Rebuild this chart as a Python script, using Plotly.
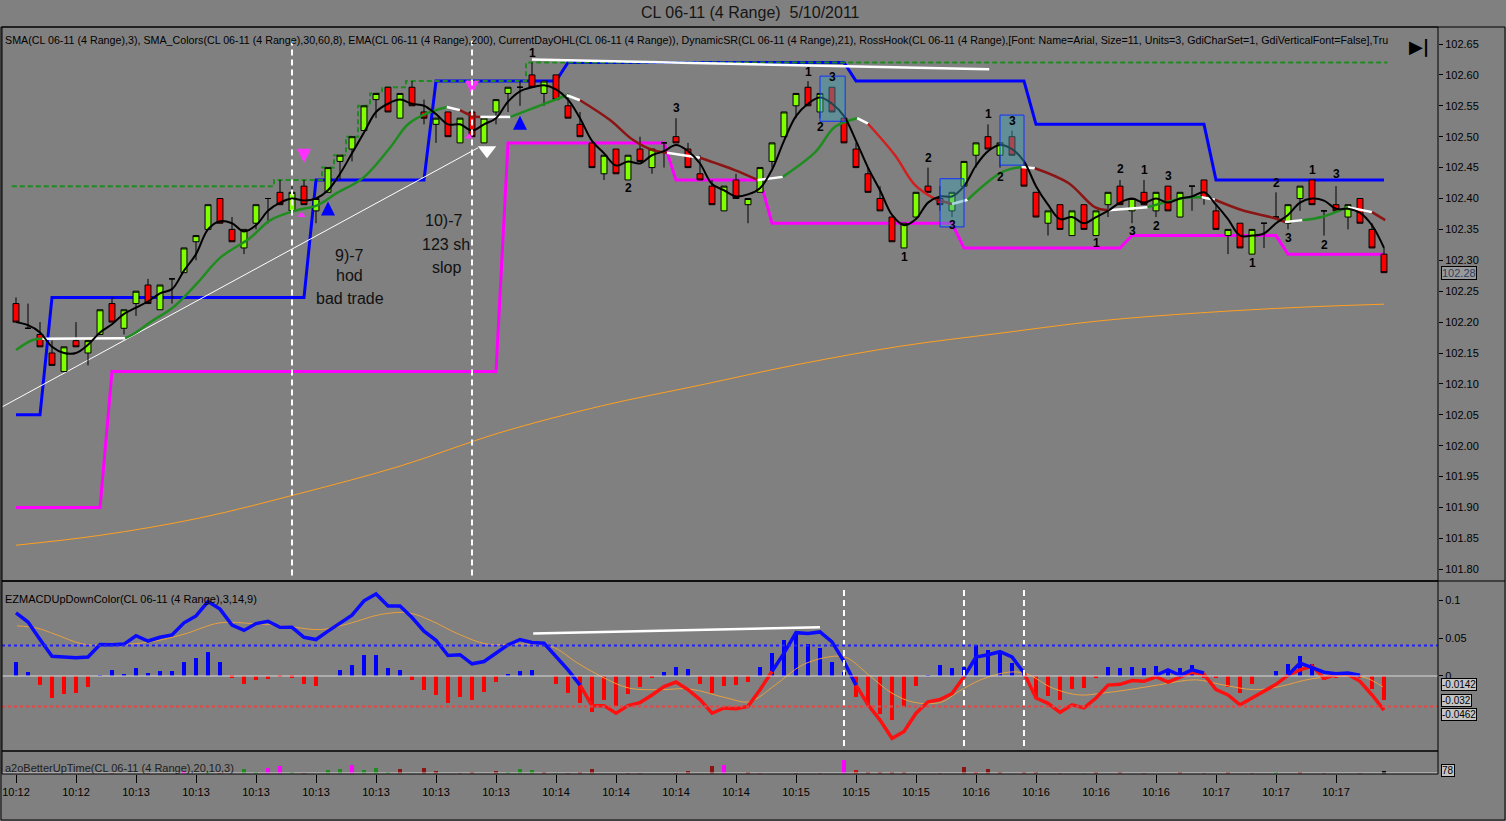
import pandas as pd
import plotly.graph_objects as go

W, H = 1506, 821

# ---- CL 06-11, 4 range bars, 5/10/2011
bar_open = [102.23, 102.19, 102.18, 102.15, 102.12, 102.17, 102.15, 102.18, 102.23, 102.19,
            102.23, 102.26, 102.22, 102.27, 102.28, 102.33, 102.35, 102.40, 102.35, 102.32,
            102.36, 102.40, 102.41, 102.38, 102.42, 102.38, 102.41, 102.46, 102.48, 102.51,
            102.56, 102.58, 102.53, 102.58, 102.54, 102.52, 102.54, 102.49, 102.54, 102.49,
            102.54, 102.57, 102.58, 102.60, 102.57, 102.60, 102.55, 102.52, 102.49, 102.44,
            102.48, 102.43, 102.48, 102.45, 102.49, 102.50, 102.48, 102.44, 102.42, 102.38,
            102.43, 102.39, 102.41, 102.46, 102.50, 102.55, 102.58, 102.54, 102.58, 102.53,
            102.48, 102.44, 102.40, 102.37, 102.32, 102.37, 102.42, 102.40, 102.38, 102.42,
            102.47, 102.50, 102.47, 102.50, 102.45, 102.41, 102.36, 102.39, 102.34, 102.39,
            102.34, 102.39, 102.42, 102.38, 102.41, 102.38, 102.42, 102.37, 102.42, 102.43,
            102.38, 102.34, 102.36, 102.31, 102.36, 102.37, 102.36, 102.40, 102.43, 102.38,
            102.39, 102.37, 102.40, 102.35, 102.31]
bar_high = [102.24, 102.23, 102.20, 102.17, 102.16, 102.20, 102.17, 102.22, 102.24, 102.22,
            102.25, 102.27, 102.26, 102.27, 102.32, 102.34, 102.39, 102.40, 102.37, 102.35,
            102.39, 102.40, 102.43, 102.42, 102.43, 102.40, 102.45, 102.47, 102.50, 102.55,
            102.57, 102.58, 102.57, 102.59, 102.56, 102.53, 102.54, 102.53, 102.54, 102.53,
            102.56, 102.58, 102.59, 102.62, 102.59, 102.60, 102.57, 102.54, 102.49, 102.47,
            102.48, 102.47, 102.50, 102.48, 102.49, 102.53, 102.49, 102.47, 102.43, 102.42,
            102.44, 102.40, 102.45, 102.49, 102.54, 102.57, 102.59, 102.57, 102.58, 102.53,
            102.49, 102.45, 102.42, 102.37, 102.36, 102.41, 102.45, 102.42, 102.41, 102.46,
            102.49, 102.52, 102.49, 102.51, 102.46, 102.41, 102.38, 102.39, 102.38, 102.39,
            102.38, 102.41, 102.43, 102.40, 102.43, 102.41, 102.42, 102.41, 102.42, 102.43,
            102.39, 102.35, 102.36, 102.35, 102.36, 102.41, 102.39, 102.42, 102.43, 102.38,
            102.42, 102.39, 102.40, 102.36, 102.32]
bar_low = [102.20, 102.19, 102.16, 102.13, 102.12, 102.16, 102.13, 102.18, 102.20, 102.18,
           102.21, 102.23, 102.22, 102.23, 102.28, 102.30, 102.35, 102.36, 102.33, 102.31,
           102.35, 102.36, 102.39, 102.38, 102.39, 102.36, 102.41, 102.43, 102.46, 102.51,
           102.53, 102.54, 102.53, 102.55, 102.52, 102.49, 102.50, 102.49, 102.50, 102.49,
           102.52, 102.54, 102.55, 102.58, 102.55, 102.56, 102.53, 102.50, 102.45, 102.43,
           102.44, 102.43, 102.46, 102.44, 102.45, 102.49, 102.45, 102.43, 102.39, 102.38,
           102.40, 102.36, 102.41, 102.45, 102.50, 102.53, 102.55, 102.53, 102.54, 102.49,
           102.45, 102.41, 102.38, 102.33, 102.32, 102.37, 102.41, 102.38, 102.37, 102.42,
           102.45, 102.48, 102.45, 102.47, 102.42, 102.37, 102.34, 102.35, 102.34, 102.35,
           102.34, 102.37, 102.39, 102.36, 102.39, 102.37, 102.38, 102.37, 102.38, 102.39,
           102.35, 102.31, 102.32, 102.31, 102.32, 102.37, 102.35, 102.38, 102.39, 102.34,
           102.38, 102.35, 102.36, 102.32, 102.28]
bar_close = [102.20, 102.19, 102.16, 102.13, 102.16, 102.16, 102.17, 102.22, 102.20, 102.22,
             102.25, 102.23, 102.26, 102.27, 102.32, 102.34, 102.39, 102.36, 102.33, 102.35,
             102.39, 102.40, 102.39, 102.41, 102.39, 102.40, 102.45, 102.47, 102.50, 102.55,
             102.57, 102.54, 102.57, 102.55, 102.53, 102.53, 102.50, 102.53, 102.50, 102.53,
             102.56, 102.58, 102.58, 102.58, 102.59, 102.56, 102.53, 102.50, 102.45, 102.47,
             102.44, 102.47, 102.46, 102.48, 102.49, 102.49, 102.45, 102.43, 102.39, 102.42,
             102.40, 102.40, 102.45, 102.49, 102.54, 102.57, 102.55, 102.57, 102.54, 102.49,
             102.45, 102.41, 102.38, 102.33, 102.36, 102.41, 102.41, 102.39, 102.41, 102.46,
             102.49, 102.48, 102.49, 102.47, 102.42, 102.37, 102.38, 102.35, 102.38, 102.35,
             102.38, 102.41, 102.39, 102.40, 102.39, 102.41, 102.38, 102.41, 102.42, 102.40,
             102.35, 102.35, 102.32, 102.35, 102.36, 102.37, 102.39, 102.42, 102.39, 102.38,
             102.38, 102.39, 102.36, 102.32, 102.28]
bars = list(range(len(bar_close)))

time_ticks = [0, 5, 10, 15, 20, 25, 30, 35, 40, 45, 50, 55, 60, 65, 70, 75, 80, 85, 90, 95, 100, 105, 110]
time_labels = ["10:12", "10:12", "10:13", "10:13", "10:13", "10:13", "10:13", "10:13", "10:13",
               "10:14", "10:14", "10:14", "10:14", "10:15", "10:15", "10:15", "10:16", "10:16",
               "10:16", "10:16", "10:17", "10:17", "10:17"]
price_ticks = [101.80, 101.85, 101.90, 101.95, 102.00, 102.05, 102.10, 102.15, 102.20,
               102.25, 102.30, 102.35, 102.40, 102.45, 102.50, 102.55, 102.60, 102.65]
macd_ticks = [0, 0.05, 0.1]
macd_tick_labels = ["0", "0.05", "0.1"]

# DynamicSR resistance / support steps
sr_hi_x = [0, 2, 3, 24, 25, 34, 35, 45, 46, 69, 70, 84, 85, 99, 100, 114]
sr_hi_y = [102.05, 102.05, 102.24, 102.24, 102.43, 102.43, 102.59, 102.59, 102.62, 102.62,
           102.59, 102.59, 102.52, 102.52, 102.43, 102.43]
sr_lo_x = [0, 7, 8, 40, 41, 54, 55, 62, 63, 78, 79, 92, 93, 105, 106, 114]
sr_lo_y = [101.90, 101.90, 102.12, 102.12, 102.49, 102.49, 102.43, 102.43, 102.36, 102.36,
           102.32, 102.32, 102.34, 102.34, 102.31, 102.31]

# CurrentDayOHL high of day
hod_x = [-0.35, 21, 22, 25, 26, 27, 28, 29, 30, 31, 32, 33, 42, 43, 114.3]
hod_y = [102.42, 102.42, 102.43, 102.43, 102.45, 102.47, 102.50, 102.55, 102.57, 102.58,
         102.58, 102.59, 102.59, 102.62, 102.62]

# EMA(200)
ema_x = [0, 7, 15.3, 23.7, 32, 40.3, 48.7, 57, 65.3, 73.7, 82, 90.3, 98.7, 107, 114]
ema_y = [101.839, 101.855, 101.883, 101.923, 101.967, 102.021, 102.064, 102.098, 102.132,
         102.161, 102.182, 102.202, 102.215, 102.224, 102.229]

# SMA_Colors line and its trend state per segment (g up, d/r down, w flat)
smac_x = [0, 1.4, 2.2, 9.1, 9.9, 11.2, 13.1, 15.1, 17, 19.5, 21.2, 23.4, 25.1, 26.75, 28.9,
          31.2, 32.6, 33.9, 35.9, 37, 38.1, 38.7, 41.2, 45.9, 47, 49.5, 51.4, 53.1, 54.25, 57,
          59.9, 61.8, 63.9, 66.6, 68.25, 70.1, 71, 73.25, 74.9, 76.6, 78, 79.3, 82.2, 83.8, 84.9,
          87.7, 89.9, 91, 94.3, 97.4, 98.8, 99.9, 102.2, 104.9, 105.75, 107.2, 108.8, 111, 113, 114.1]
smac_y = [102.155, 102.171, 102.173, 102.174, 102.182, 102.200, 102.224, 102.263, 102.304,
          102.336, 102.365, 102.381, 102.389, 102.409, 102.433, 102.483, 102.519, 102.535,
          102.548, 102.543, 102.533, 102.532, 102.532, 102.567, 102.559, 102.527, 102.495,
          102.478, 102.474, 102.466, 102.446, 102.430, 102.435, 102.475, 102.516, 102.530,
          102.521, 102.470, 102.422, 102.399, 102.391, 102.398, 102.443, 102.451, 102.449,
          102.425, 102.386, 102.381, 102.386, 102.401, 102.402, 102.398, 102.381, 102.368,
          102.362, 102.365, 102.370, 102.386, 102.378, 102.365]
smac_state = "ggwggggggggggggggg" "wddwgw" "ddddw" "ddw" "gggw" "rrrdw" "ggw" "dddw" "ggw" "dddw" "ggw" "d"

# RossHook labels
hook_x = [43, 55, 51, 66, 68, 67, 76, 74, 81, 83, 82, 78, 92, 94, 96, 90, 93, 95, 105, 108, 110, 106, 103, 109]
hook_y = [102.635, 102.546, 102.417, 102.605, 102.597, 102.516, 102.466, 102.305, 102.537,
          102.525, 102.435, 102.357, 102.448, 102.446, 102.436, 102.328, 102.347, 102.355,
          102.425, 102.446, 102.440, 102.336, 102.296, 102.325]
hook_txt = ["1", "3", "2", "1", "3", "2", "2", "1", "1", "3", "2", "3", "2", "1", "3", "1", "3", "2",
            "2", "1", "3", "3", "1", "2"]

# hook boxes: bar from, bar to, price low, price high
box_x0 = [67.0, 77.0, 82.0]
box_x1 = [69.1, 79.0, 84.0]
box_lo = [102.525, 102.354, 102.454]
box_hi = [102.598, 102.432, 102.535]

# signal arrows
mag_dn_x, mag_dn_y = [24, 38], [102.458, 102.568]
mag_up_x, mag_up_y = [23.8, 37.75], [102.373, 102.500]
blu_up_x, blu_up_y = [26, 42], [102.395, 102.534]

# hand drawn lines
trend_x, trend_y = [-1.33, 38.5], [102.061, 102.482]
top_x, top_y = [43, 81.1], [102.625, 102.609]
main_marks = [23, 38]

# ---- EZMACDUpDownColor
macd = [0.083, 0.071, 0.048, 0.026, 0.025, 0.024, 0.025, 0.0415, 0.041, 0.042,
        0.053, 0.046, 0.051, 0.054, 0.070, 0.079, 0.098, 0.088, 0.067, 0.060,
        0.069, 0.072, 0.064, 0.064, 0.051, 0.048, 0.059, 0.069, 0.080, 0.099,
        0.108, 0.092, 0.092, 0.077, 0.059, 0.047, 0.027, 0.028, 0.016, 0.019,
        0.030, 0.041, 0.048, 0.044, 0.043, 0.026, 0.008, -0.012, -0.039, -0.039,
        -0.049, -0.039, -0.035, -0.025, -0.014, -0.008, -0.018, -0.031, -0.049, -0.042,
        -0.043, -0.040, -0.018, 0.006, 0.030, 0.057, 0.056, 0.058, 0.045, 0.019,
        -0.012, -0.038, -0.058, -0.082, -0.073, -0.049, -0.034, -0.031, -0.023, -0.001,
        0.025, 0.028, 0.032, 0.025, 0.004, -0.029, -0.036, -0.048, -0.038, -0.042,
        -0.029, -0.012, -0.011, -0.006, -0.007, -0.001, -0.008, -0.001, 0.005, 0.002,
        -0.018, -0.025, -0.038, -0.029, -0.020, -0.011, 0.001, 0.008, 0.013, -0.003,
        0.002, 0.002, -0.007, -0.025, -0.045]
macd_up_runs = [(0, 47), (63, 70), (79, 84)]
macd_dn_runs = [(47, 63), (70, 79), (84, 114)]
macd_up_extra_x = [[95, 96, 97, 98, 99], [106, 107, 108, 109, 110, 111, 112]]
macd_up_extra_y = [[0.001, 0.008, 0.001, 0.008, 0.004],
                   [0.001, 0.017, 0.011, 0.005, 0.003, 0.004, 0.001]]
macd_hist = [0.019, 0.005, -0.0125, -0.029, -0.024, -0.022, -0.015, 0.001, 0.008, 0.002,
             0.011, 0.0035, 0.0066, 0.0066, 0.018, 0.0234, 0.032, 0.019, -0.002, -0.011,
             -0.005, -0.004, -0.001, -0.002, -0.011, -0.013, 0.0, 0.008, 0.0146, 0.027,
             0.028, 0.011, 0.008, -0.005, -0.0186, -0.025, -0.036, -0.027, -0.032, -0.021,
             -0.0075, 0.002, 0.0066, 0.008, 0.0, -0.011, -0.023, -0.036, -0.047, -0.032,
             -0.039, -0.024, -0.015, -0.003, 0.005, 0.012, 0.009, -0.011, -0.022, -0.013,
             -0.012, -0.0075, 0.012, 0.030, 0.048, 0.057, 0.042, 0.037, 0.018, 0.005,
             -0.027, -0.041, -0.050, -0.058, -0.041, -0.013, 0.001, 0.0146, 0.011, 0.012,
             0.041, 0.0345, 0.030, 0.017, 0.002, -0.027, -0.026, -0.032, -0.017, -0.016,
             -0.003, 0.012, 0.011, 0.012, 0.010, 0.0137, 0.005, 0.010, 0.0146, -0.002,
             -0.003, -0.014, -0.022, -0.011, 0.0, 0.0066, 0.0155, 0.026, 0.0155, -0.005,
             -0.003, 0.0035, -0.002, -0.017, -0.032]
sig_x = [0.1, 1.75, 3.25, 5.6, 8.25, 11.25, 14, 17, 19.7, 22.4, 25.4, 27.75, 30.4, 32.75, 34.7,
         36.9, 39.25, 41.9, 44.6, 46.8, 48.75, 51.1, 53.75, 56.1, 59.25, 61.1, 63.3, 65.6, 68.2,
         69.25, 71.2, 73, 74.8, 77.1, 78.6, 80.4, 82.7, 84.2, 86.4, 88.6, 90.5, 92.75, 95.3, 98.3,
         100.5, 103.2, 105.3, 108, 110.6, 112.4, 113.9]
sig_y = [0.066, 0.063, 0.055, 0.042, 0.041, 0.045, 0.055, 0.070, 0.069, 0.066, 0.061, 0.069,
         0.081, 0.083, 0.072, 0.055, 0.042, 0.042, 0.039, 0.017, -0.0005, -0.016, -0.018, -0.017,
         -0.029, -0.034, -0.0115, 0.015, 0.026, 0.024, -0.0005, -0.0226, -0.0345, -0.0345, -0.020,
         -0.005, 0.005, 0.003, -0.016, -0.025, -0.0226, -0.018, -0.0115, -0.005, -0.0115, -0.018,
         -0.0138, -0.0036, -0.0005, -0.002, -0.0142]
macd_line_x, macd_line_y = [43.1, 67.0], [0.056, 0.064]
macd_marks = [69, 79, 84]
macd_tags = [-0.0142, -0.032, -0.0462]

# ---- BetterUpTime volume strip (g up, d down, m climax, r churn)
vol = [0, 0, 0, 0, 0, 0, 0, 0, 20, 0, 0, 25, 0, 0, 90, 0, 30, 25, 0, 130,
       35, 150, 200, 45, 25, 0, 105, 140, 235, 105, 150, 50, 120, 0, 155, 80, 0, 25, 35, 0,
       80, 35, 130, 105, 35, 25, 25, 50, 130, 0, 0, 25, 25, 0, 0, 25, 80, 0, 210, 230,
       0, 60, 25, 0, 0, 25, 0, 25, 0, 360, 100, 60, 30, 30, 30, 0, 0, 25, 0, 180,
       50, 120, 30, 0, 40, 30, 0, 25, 0, 25, 40, 0, 50, 0, 25, 0, 0, 40, 0, 25,
       0, 30, 0, 25, 0, 30, 0, 35, 0, 25, 0, 0, 25, 0, 78]
vol_kind = ("ddddddddddddddmdgdgg" "gmmgddggmgggdgddddddd" "gggdgdddddddddddddm" "mdrddddddmrddddddd"
            "mdrddddddddgdrdddgdd" "dddddddgddddddd")

# ---------------------------------------------------------------------------
FONT = "Liberation Sans"
X0, X1 = 2 / W, 1438 / W


def row(px):
    return 1 - px / H


MAIN = [row(581), row(27)]
MACD = [row(751), row(581)]
VOLD = [row(774), row(751)]
PRICE_RANGE = [101.7811, 102.6775]

fig = go.Figure()

# support / resistance lines under the bars
fig.add_trace(go.Scatter(x=sr_lo_x, y=sr_lo_y, mode="lines", line=dict(color="#ff00ff", width=3)))
fig.add_trace(go.Scatter(x=sr_hi_x, y=sr_hi_y, mode="lines", line=dict(color="#0000ff", width=3)))
fig.add_trace(go.Scatter(x=hod_x, y=hod_y, mode="lines", line_shape="hvh",
                         line=dict(color="#1f8a1f", width=2, dash="5px,3px")))
fig.add_trace(go.Scatter(x=ema_x, y=ema_y, mode="lines", line_shape="spline",
                         line=dict(color="#ffa020", width=1)))
fig.add_trace(go.Scatter(x=trend_x, y=trend_y, mode="lines", line=dict(color="white", width=1)))
fig.add_trace(go.Scatter(x=top_x, y=top_y, mode="lines", line=dict(color="white", width=2.5)))

fig.add_trace(go.Candlestick(
    x=bars, open=bar_open, high=bar_high, low=bar_low, close=bar_close, yaxis="y4",
    increasing=dict(fillcolor="#80ff00", line=dict(color="black", width=1)),
    decreasing=dict(fillcolor="#ff0000", line=dict(color="black", width=1)),
    whiskerwidth=0,
))

# colored SMA in runs
state_col = {"g": "#1e8c1e", "d": "#8b1414", "r": "#d02020", "w": "white"}
i = 0
while i < len(smac_state):
    j = i
    while j + 1 < len(smac_state) and smac_state[j + 1] == smac_state[i]:
        j += 1
    fig.add_trace(go.Scatter(x=smac_x[i:j + 2], y=smac_y[i:j + 2], mode="lines", yaxis="y4",
                             line_shape="spline", line=dict(color=state_col[smac_state[i]], width=2.5)))
    i = j + 1

sma3 = pd.Series(bar_close).rolling(3, min_periods=1).mean()
fig.add_trace(go.Scatter(x=bars, y=sma3, mode="lines", yaxis="y4", line_shape="spline",
                         line=dict(color="black", width=2)))

fig.add_trace(go.Scatter(x=mag_dn_x, y=mag_dn_y, mode="markers", yaxis="y4",
                         marker=dict(symbol="arrow-down", size=14, color="#ff30ff")))
fig.add_trace(go.Scatter(x=mag_up_x, y=mag_up_y, mode="markers", yaxis="y4",
                         marker=dict(symbol="triangle-up", size=7, color="#ff30ff")))
fig.add_trace(go.Scatter(x=blu_up_x, y=blu_up_y, mode="markers", yaxis="y4",
                         marker=dict(symbol="arrow-up", size=14, color="#0000ff")))
fig.add_trace(go.Scatter(x=[39.25], y=[102.478], mode="markers", yaxis="y4",
                         marker=dict(symbol="triangle-down", size=16, color="white")))

# MACD panel
fig.add_trace(go.Bar(x=bars, y=macd_hist, yaxis="y2", width=0.28,
                     marker=dict(color=["#0000ff" if v >= 0 else "#ff0000" for v in macd_hist], line_width=0)))
fig.add_trace(go.Scatter(x=sig_x, y=sig_y, mode="lines", yaxis="y2", line_shape="spline",
                         line=dict(color="#e8a040", width=1)))
for a, b in macd_dn_runs:
    fig.add_trace(go.Scatter(x=bars[a:b + 1], y=macd[a:b + 1], mode="lines", yaxis="y2",
                             line=dict(color="#ff1010", width=3.5)))
for a, b in macd_up_runs:
    fig.add_trace(go.Scatter(x=bars[a:b + 1], y=macd[a:b + 1], mode="lines", yaxis="y2",
                             line=dict(color="#0a0aff", width=3.5)))
for ex, ey in zip(macd_up_extra_x, macd_up_extra_y):
    fig.add_trace(go.Scatter(x=ex, y=ey, mode="lines", yaxis="y2", line=dict(color="#0a0aff", width=3.5)))
fig.add_trace(go.Scatter(x=macd_line_x, y=macd_line_y, mode="lines", yaxis="y2",
                         line=dict(color="white", width=2.5)))

# volume strip
kind_col = {"g": "#1e8c1e", "d": "#8b1414", "m": "#ff00ff", "r": "#cc1010"}
fig.add_trace(go.Bar(x=bars, y=vol, yaxis="y3", width=0.3,
                     marker=dict(color=[kind_col[k] for k in vol_kind], line_width=0)))

shapes = []
for bx in main_marks:
    shapes.append(dict(type="line", xref="x", yref="y domain", x0=bx, x1=bx, y0=0.01, y1=0.975,
                       line=dict(color="white", width=2, dash="6px,4px")))
for bx in macd_marks:
    shapes.append(dict(type="line", xref="x", yref="y2 domain", x0=bx, x1=bx, y0=0.03, y1=0.965,
                       line=dict(color="white", width=2, dash="6px,4px")))
for a, b, lo, hi in zip(box_x0, box_x1, box_lo, box_hi):
    shapes.append(dict(type="rect", xref="x", yref="y", x0=a, x1=b, y0=lo, y1=hi,
                       fillcolor="rgba(60,160,180,0.45)", line=dict(color="#1030ff", width=1)))
for lvl, col, dsh in [(0.04, "#2020ff", "dot"), (-0.04, "#e04848", "dot"), (0, "#d8d8d8", "solid")]:
    shapes.append(dict(type="line", xref="paper", yref="y2", x0=X0, x1=X1, y0=lvl, y1=lvl,
                       line=dict(color=col, width=2 if dsh == "dot" else 1, dash=dsh)))
shapes.append(dict(type="line", xref="paper", yref="paper", x0=X0, x1=X1, y0=row(773), y1=row(773),
                   line=dict(color="#d0d0d0", width=1)))
for dom in (MAIN, MACD, VOLD):
    shapes.append(dict(type="rect", xref="paper", yref="paper", x0=X0, x1=X1, y0=dom[0], y1=dom[1],
                       line=dict(color="black", width=1)))
shapes.append(dict(type="rect", xref="paper", yref="paper", x0=1 / W, x1=1505 / W, y0=row(820), y1=row(27),
                   line=dict(color="black", width=1)))
shapes.append(dict(type="line", xref="paper", yref="paper", x0=X0, x1=1505 / W, y0=row(581), y1=row(581),
                   line=dict(color="black", width=1)))

ann = []


def label(text, x, y, size, color="black", xanchor="left", family=FONT):
    return dict(text=text, xref="paper", yref="paper", x=x / W, y=row(y), xanchor=xanchor,
                yanchor="middle", showarrow=False, font=dict(family=family, size=size, color=color))


ann.append(label("CL 06-11 (4 Range)\u00a0\u00a05/10/2011", 750, 13, 16, "#151515", "center"))
ann.append(label("SMA(CL 06-11 (4 Range),3), SMA_Colors(CL 06-11 (4 Range),30,60,8), EMA(CL 06-11 (4 Range),200), "
                 "CurrentDayOHL(CL 06-11 (4 Range)), DynamicSR(CL 06-11 (4 Range),21), RossHook(CL 06-11 (4 Range),"
                 "[Font: Name=Arial, Size=11, Units=3, GdiCharSet=1, GdiVerticalFont=False],Tru", 3, 40, 10.7))
ann.append(label("<b>\u25b6|</b>", 1419, 47, 18, "black", "center", "DejaVu Sans"))
ann.append(label("EZMACDUpDownColor(CL 06-11 (4 Range),3,14,9)", 3, 599, 11))
ann.append(label("a2oBetterUpTime(CL 06-11 (4 Range),20,10,3)", 3, 768, 11, "#202020"))
for t, bx, p in [("9)-7", 27.8, 102.307), ("hod", 27.8, 102.275), ("bad trade", 27.8, 102.239),
                 ("10)-7", 35.6, 102.365), ("123 sh", 35.8, 102.325), ("slop", 35.9, 102.288)]:
    ann.append(dict(text=t, xref="x", yref="y", x=bx, y=p, showarrow=False, xanchor="center", yanchor="middle",
                    font=dict(family=FONT, size=16, color="#111111")))
for t, bx, p in zip(hook_txt, hook_x, hook_y):
    ann.append(dict(text="<b>%s</b>" % t, xref="x", yref="y", x=bx, y=p, showarrow=False,
                    xanchor="center", yanchor="middle", font=dict(family=FONT, size=12, color="black")))
tag = dict(xref="paper", x=1441 / W, xanchor="left", yanchor="middle", showarrow=False, bordercolor="black",
           borderwidth=1, borderpad=0, font=dict(family=FONT, size=10, color="black"))
ann.append(dict(tag, text="102.28", yref="y", y=102.28, bgcolor="#9a9a9a", font=dict(family=FONT, size=11)))
for v, shift in zip(macd_tags, (2, 0, -3)):
    ann.append(dict(tag, text=str(v), yref="y2", y=v, yshift=shift, bgcolor="#c4c4c4"))
ann.append(dict(tag, text="78", yref="paper", y=row(770), bgcolor="#c4c4c4"))

axis_font = dict(family=FONT, size=11, color="black")
fig.update_layout(
    width=W, height=H, autosize=False, margin=dict(l=0, r=0, t=0, b=0, pad=0),
    paper_bgcolor="#808080", plot_bgcolor="#808080", showlegend=False, bargap=0,
    xaxis=dict(domain=[X0, X1], range=[-1.167, 118.5], anchor="y3", tickmode="array",
               tickvals=time_ticks, ticktext=time_labels, ticks="outside", ticklen=8, tickcolor="black",
               tickfont=axis_font, showgrid=False, zeroline=False, rangeslider=dict(visible=False)),
    yaxis=dict(domain=MAIN, range=PRICE_RANGE, side="right", anchor="x", tickmode="array",
               tickvals=price_ticks, tickformat=".2f", ticks="outside", ticklen=4, tickcolor="black",
               tickfont=axis_font, showgrid=False, zeroline=False),
    yaxis4=dict(overlaying="y", range=PRICE_RANGE, anchor="x", visible=False),
    yaxis2=dict(domain=MACD, range=[-0.0987, 0.125], side="right", anchor="x", tickmode="array",
                tickvals=macd_ticks, ticktext=macd_tick_labels, ticks="outside",
                ticklen=4, tickcolor="black", tickfont=axis_font, showgrid=False, zeroline=False),
    yaxis3=dict(domain=VOLD, range=[0, 600], side="right", anchor="x", showticklabels=False,
                showgrid=False, zeroline=False),
    shapes=shapes, annotations=ann,
)

fig.write_html("out.html", config={"displayModeBar": False},
               post_script="document.body.style.margin='0';")
